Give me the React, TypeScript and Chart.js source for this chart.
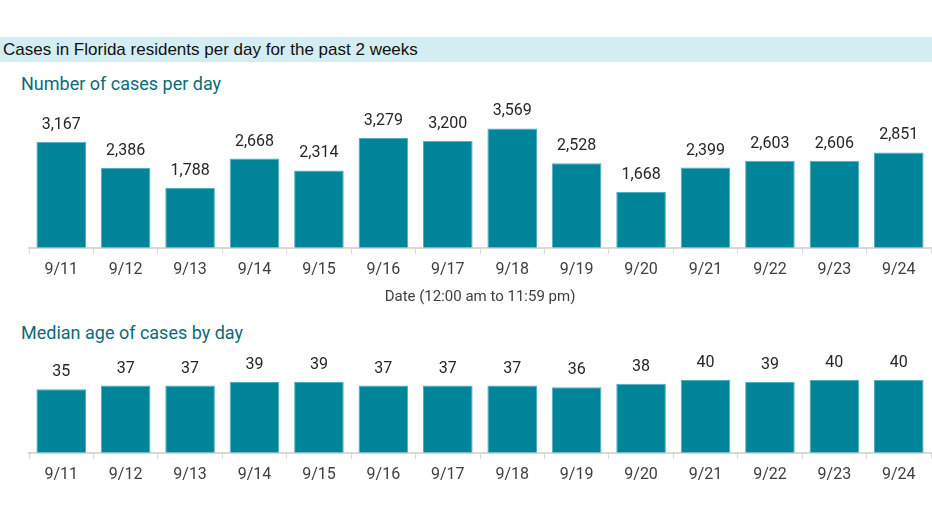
import React, { useEffect, useRef } from "react";
import { Chart, registerables } from "chart.js";

Chart.register(...registerables);

const categories = ["9/11", "9/12", "9/13", "9/14", "9/15", "9/16", "9/17", "9/18", "9/19", "9/20", "9/21", "9/22", "9/23", "9/24"];
const casesPerDay = [3167, 2386, 1788, 2668, 2314, 3279, 3200, 3569, 2528, 1668, 2399, 2603, 2606, 2851];
const medianAge = [35, 37, 37, 39, 39, 37, 37, 37, 36, 38, 40, 39, 40, 40];

const headerText = "Cases in Florida residents per day for the past 2 weeks";
const casesTitle = "Number of cases per day";
const ageTitle = "Median age of cases by day";
const xAxisTitle = "Date (12:00 am to 11:59 pm)";

const BAR = "#00849a";
const BAR_EDGE = "#4fb0bf";
const TEAL_TITLE = "#0d6b78";
const FONT = "Roboto, 'Noto Sans', sans-serif";

const valueLabels = {
  id: "valueLabels",
  afterDatasetsDraw(chart: any) {
    const ctx = chart.ctx;
    const meta = chart.getDatasetMeta(0);
    const data = chart.data.datasets[0].data as number[];
    ctx.save();
    ctx.font = `16px ${FONT}`;
    ctx.fillStyle = "#262626";
    ctx.textAlign = "center";
    ctx.textBaseline = "middle";
    meta.data.forEach((bar: any, i: number) => {
      ctx.fillText(data[i].toLocaleString("en-US"), bar.x, bar.y - 17);
    });
    ctx.restore();
  },
};

function BarChart(props: {
  values: number[];
  max: number;
  width: number;
  height: number;
  padding: any;
  axisTitle?: string;
}) {
  const ref = useRef<HTMLCanvasElement>(null);
  useEffect(() => {
    if (!ref.current) return;
    const chart = new Chart(ref.current, {
      type: "bar",
      data: {
        labels: categories,
        datasets: [
          {
            data: props.values,
            backgroundColor: BAR,
            borderColor: BAR_EDGE,
            borderWidth: 1,
            categoryPercentage: 1,
            barPercentage: 0.77,
          },
        ],
      },
      options: {
        responsive: false,
        animation: false,
        devicePixelRatio: 1,
        layout: { padding: props.padding },
        plugins: { legend: { display: false }, tooltip: { enabled: false } },
        scales: {
          x: {
            grid: {
              display: true,
              drawOnChartArea: false,
              drawTicks: true,
              tickLength: 6,
              color: "#d9d9d9",
              lineWidth: 1,
              offset: true,
            },
            border: { display: true, color: "#d9d9d9", width: 2 },
            ticks: {
              color: "#404040",
              font: { family: FONT, size: 16 },
              padding: 7,
              maxRotation: 0,
            },
            title: props.axisTitle
              ? {
                  display: true,
                  text: props.axisTitle,
                  color: "#404040",
                  font: { family: FONT, size: 15 },
                  padding: { top: 1, bottom: 2 },
                }
              : { display: false },
          },
          y: {
            display: false,
            min: 0,
            max: props.max,
          },
        },
      },
      plugins: [valueLabels],
    });
    return () => chart.destroy();
  }, []);
  return <canvas ref={ref} width={props.width} height={props.height} style={{ display: "block" }} />;
}

export default function App() {
  return (
    <div style={{ position: "absolute", left: 0, top: 0, width: 932, height: 524, background: "#fff", overflow: "hidden", fontFamily: FONT }}>
      <div
        style={{
          position: "absolute",
          left: 0,
          top: 37,
          width: 932,
          height: 25,
          background: "#d4edf2",
        }}
      />
      <div
        style={{
          position: "absolute",
          left: 3,
          top: 37,
          height: 25,
          lineHeight: "25px",
          fontSize: 17,
          color: "#111",
          fontFamily: "'Liberation Sans', Arial, sans-serif",
          whiteSpace: "nowrap",
        }}
      >
        {headerText}
      </div>
      <div style={{ position: "absolute", left: 21, top: 72, lineHeight: "24px", fontSize: 18, color: TEAL_TITLE, whiteSpace: "nowrap" }}>{casesTitle}</div>
      <div style={{ position: "absolute", left: 0, top: 100 }}>
        <BarChart values={casesPerDay} max={4000} width={932} height={212} padding={{ left: 29, right: 1, top: 14, bottom: 4 }} axisTitle={xAxisTitle} />
      </div>
      <div style={{ position: "absolute", left: 21, top: 321, lineHeight: "24px", fontSize: 18, color: TEAL_TITLE, whiteSpace: "nowrap" }}>{ageTitle}</div>
      <div style={{ position: "absolute", left: 0, top: 350 }}>
        <BarChart values={medianAge} max={45} width={932} height={147} padding={{ left: 29, right: 1, top: 21, bottom: 5 }} />
      </div>
    </div>
  );
}
